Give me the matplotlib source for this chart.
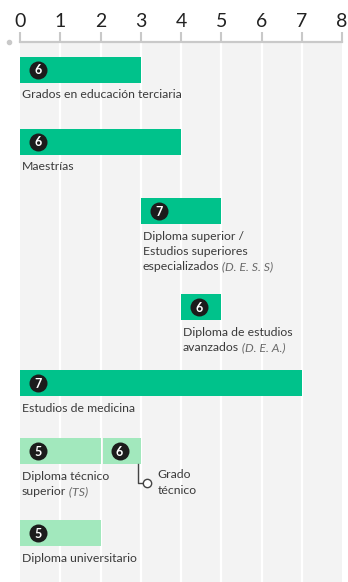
import matplotlib

matplotlib.use("Agg")
import matplotlib.pyplot as plt

# data
labels = [
    "Grados en educación terciaria",
    "Maestrías",
    "Diploma superior /\nEstudios superiores\nespecializados",
    "Diploma de estudios\navanzados",
    "Estudios de medicina",
    "Diploma técnico\nsuperior",
    "Diploma universitario",
]
abbrevs = ["", "", "(D. E. S. S)", "(D. E. A.)", "", "(TS)", ""]
starts = [0, 0, 3, 4, 0, 0, 0]
ends = [3, 4, 5, 5, 7, 2, 2]
levels = [6, 6, 7, 6, 7, 5, 5]
strong = [True, True, True, True, True, False, False]

# extra segment on the "Diploma técnico superior" row
extra_row = 5
extra_start = 2
extra_end = 3
extra_level = 6
extra_label = "Grado\ntécnico"

x_ticks = list(range(0, 9))

# layout (pixel rows, top of each bar)
W, H = 348, 582
row_top = [57, 129, 198, 294, 370, 438, 520]
BAR_H = 26
LINE_H = 15.5

DARK = "#00c28b"
LIGHT = "#a2e8bd"
TEXT = "#3a3a3a"
GREY_TEXT = "#6a6a6a"
FONT = "Lato"
FS = 8.8

fig = plt.figure(figsize=(W / 100, H / 100), dpi=100)
x0, x1 = 20, 342
ax = fig.add_axes([x0 / W, 0, (x1 - x0) / W, (H - 42) / H])
ax.set_xlim(0, 8)
ax.set_ylim(H, 42)
ax.set_facecolor("#f3f3f3")
unit = (x1 - x0) / 8  # pixels per unit

for xv in x_ticks[1:-1]:
    ax.axvline(xv, color="white", lw=1.6, zorder=1)

for sp in ["left", "right", "bottom"]:
    ax.spines[sp].set_visible(False)
ax.spines["top"].set_color("#c9c9c9")
ax.spines["top"].set_linewidth(1.6)
ax.xaxis.tick_top()
ax.set_xticks(x_ticks)
ax.set_xticklabels([str(t) for t in x_ticks], fontsize=14, fontfamily=FONT,
                   color="#222222")
ax.tick_params(axis="x", length=7.5, width=1.5, color="#c9c9c9", pad=1)
ax.set_yticks([])

ax.plot([-11 / unit], [42], "o", ms=3, color="#c9c9c9", clip_on=False)


def draw_badge(x, yc, n):
    ax.scatter([x], [yc], s=(18 * 0.72) ** 2, color="#1c1c1c", zorder=4,
               linewidths=0)
    ax.text(x, yc + 0.5, str(n), ha="center", va="center", color="white",
            fontsize=9, fontweight="bold", fontfamily=FONT, zorder=5)


for i, lab in enumerate(labels):
    yc = row_top[i] + BAR_H / 2
    color = DARK if strong[i] else LIGHT
    ax.barh(yc, ends[i] - starts[i], left=starts[i], height=BAR_H,
            color=color, zorder=2)
    draw_badge(starts[i] + 18 / unit, yc, levels[i])

    lines = lab.split("\n")
    tx = starts[i] + 2 / unit
    for j, line in enumerate(lines):
        ty = row_top[i] + BAR_H + 12 + j * LINE_H
        t = ax.text(tx, ty, line, ha="left", va="center", fontsize=FS,
                    fontfamily=FONT, color=TEXT, zorder=3)
        if j == len(lines) - 1 and abbrevs[i]:
            ax.annotate(" " + abbrevs[i], xycoords=t, xy=(1, 0.5),
                        va="center", ha="left", fontsize=FS, fontfamily=FONT,
                        style="italic", color=GREY_TEXT, zorder=3)

# extra segment
yc = row_top[extra_row] + BAR_H / 2
ax.barh(yc, extra_end - extra_start - 2 / unit, left=extra_start + 2 / unit,
        height=BAR_H, color=LIGHT, zorder=2)
draw_badge(extra_start + 19 / unit, yc, extra_level)
lx = extra_end - 3 / unit
bot = row_top[extra_row] + BAR_H
ax.plot([lx, lx, lx + 8 / unit], [bot, bot + 19, bot + 19], color="#444444",
        lw=1, zorder=3)
ax.plot([lx + 9 / unit], [bot + 19], "o", ms=6, mfc="white", mec="#444444",
        mew=1, zorder=4)
for j, line in enumerate(extra_label.split("\n")):
    ax.text(lx + 20 / unit, bot + 11 + j * LINE_H, line, ha="left",
            va="center", fontsize=FS, fontfamily=FONT, color=TEXT, zorder=3)

fig.savefig("out.png", dpi=100)
